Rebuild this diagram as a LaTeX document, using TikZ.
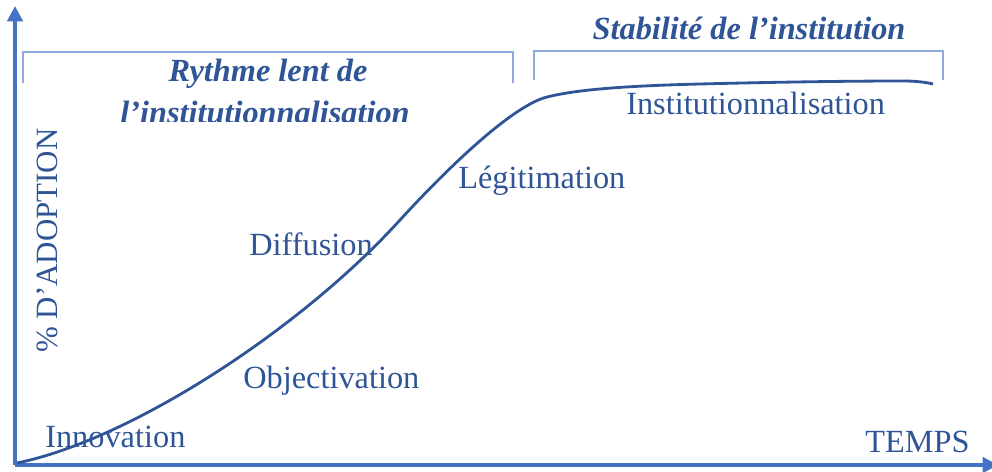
\documentclass[tikz,border=0pt]{standalone}
\usepackage{fontspec}
\setmainfont{Liberation Serif}
\usetikzlibrary{arrows.meta,positioning}
\definecolor{axe}{HTML}{4472C4}
\definecolor{texte}{HTML}{2F5597}
\definecolor{crochet}{HTML}{8EA9DB}
\tikzset{>={Triangle[length=11pt,width=11pt]}}

\begin{document}
\begin{tikzpicture}[x=0.025cm,y=-0.025cm]
        \tikzset{axe/.style={draw=axe,line width=2.6pt},
                 crochet/.style={draw=crochet,line width=0.8pt},
                 courbe/.style={draw=texte,line width=2pt},
                 etape/.style={text=texte,font=\fontsize{23}{27}\selectfont,inner sep=0pt,anchor=base west},
                 titre/.style={text=texte,font=\fontsize{23}{27}\selectfont\bfseries\itshape,inner sep=0pt,anchor=base}}
        \useasboundingbox (0,0) rectangle (992,472);

        % axes
        \coordinate (o) at (15,465);
        \coordinate (ymax) at (15,6);
        \coordinate (xmax) at (998,465);
        \draw[axe,->] (o) -- (ymax);
        \draw[axe,->] (o) -- (xmax);

        % crochets
        \draw[crochet] (23,83) -- (23,52) -- (513,52) -- (513,83);
        \draw[crochet] (534,80) -- (534,51) -- (943,51) -- (943,80);

        % courbe en S
        \draw[courbe] (17,463) .. controls (130,440) and (300,330) .. (400,220)
                .. controls (455,160) and (515,105) .. (547,97)
                .. controls (575,90) and (620,86) .. (700,84)
                .. controls (780,82) and (850,81) .. (903,81)
                .. controls (915,81) and (925,82) .. (933,84);

        % etapes
        \node[etape] (innov) at (45,447) {Innovation};
        \node[etape] (objec) at (243,388) {Objectivation};
        \node[etape] (diffu) at (249,255) {Diffusion};
        \node[etape] (legit) at (458,188) {Légitimation};
        \node[etape] (insti) at (626,115) {Institutionnalisation};
        \node[etape] (temps) at (865,452) {TEMPS};
        \node[etape,rotate=90,font=\fontsize{22}{26}\selectfont] (adopt) at (57,353) {\% D’ADOPTION};

        % titres
        \node[titre] (rythme) at (268,82) {Rythme lent de};
        \begin{scope}
                \clip (0,0) rectangle (992,122);
                \node[titre] (rythme2) at (265,124) {l’institutionnalisation};
        \end{scope}
        \node[titre] (stab) at (749,40) {Stabilité de l’institution};
\end{tikzpicture}
\end{document}
